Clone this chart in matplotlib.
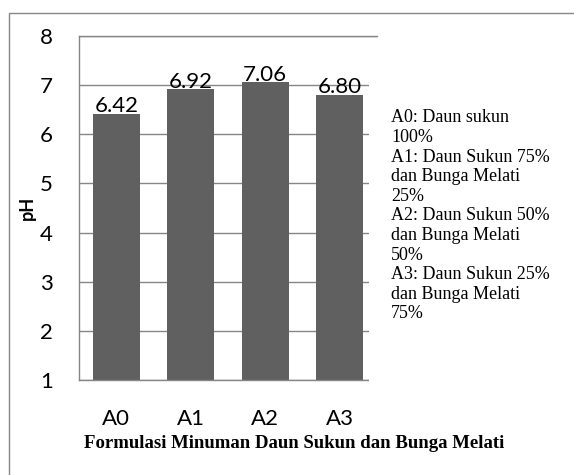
import matplotlib
matplotlib.use("Agg")
import matplotlib.pyplot as plt
from matplotlib.patches import Rectangle

categories = ["A0", "A1", "A2", "A3"]
ph_values = [6.42, 6.92, 7.06, 6.80]
y_ticks = [1, 2, 3, 4, 5, 6, 7, 8]
legend_lines = [
    "A0: Daun sukun", "100%",
    "A1: Daun Sukun 75%", "dan Bunga Melati", "25%",
    "A2: Daun Sukun 50%", "dan Bunga Melati", "50%",
    "A3: Daun Sukun 25%", "dan Bunga Melati", "75%",
]

W, H = 574, 475
fig = plt.figure(figsize=(W / 100, H / 100), dpi=100)
grid_col = "#868686"
sans = "Lato"
serif = "Liberation Serif"

# plot area in pixel terms: x 79..377, y 36..380
ax = fig.add_axes([79 / W, 1 - 380 / H, 298 / W, 344 / H])
x = range(len(categories))
bars = ax.bar(x, ph_values, width=0.63, color="#606060", zorder=2)
ax.set_xlim(-0.5, 3.5)
ax.set_ylim(1, 8)
ax.set_yticks(y_ticks)
ax.set_xticks(list(x))
ax.set_xticklabels(categories)
ax.tick_params(axis="both", length=0, labelsize=16)
ax.tick_params(axis="y", pad=19)
ax.tick_params(axis="x", pad=21)
for lab in ax.get_xticklabels() + ax.get_yticklabels():
    lab.set_fontfamily(sans)
ax.yaxis.grid(True, color=grid_col, linewidth=1.0, zorder=1)
for side in ["left", "top", "bottom"]:
    ax.spines[side].set_color(grid_col)
    ax.spines[side].set_linewidth(1.0)
ax.spines["right"].set_visible(False)

for b, v in zip(bars, ph_values):
    ax.text(b.get_x() + b.get_width() / 2, v - 0.05, f"{v:.2f}",
            ha="center", va="bottom", fontsize=16, family=sans, zorder=3)

# white block on the right that holds the notes
fig.patches.append(Rectangle((369 / W, 1 - 390 / H), (W - 369) / W, 350 / H,
                             transform=fig.transFigure, facecolor="white",
                             edgecolor="none", zorder=5))
for i, line in enumerate(legend_lines):
    y = 118 + i * 19.6
    fig.text(391 / W, 1 - y / H, line, ha="left", va="center",
             fontsize=13, family=serif, zorder=6)

# outer chart border
fig.patches.append(Rectangle((9 / W, -0.05), 1.1, 1 - 13 / H + 0.05,
                             transform=fig.transFigure, facecolor="none",
                             edgecolor=grid_col, linewidth=1.0, zorder=7))

fig.text(27.5 / W, 1 - 208 / H, "pH", rotation=90, ha="center", va="center",
         fontsize=13, fontweight="bold", family=sans)
fig.text(294 / W, 1 - 443 / H, "Formulasi Minuman Daun Sukun dan Bunga Melati",
         ha="center", va="center", fontsize=13.5, fontweight="bold", family=serif)

fig.savefig("out.png", dpi=100)
